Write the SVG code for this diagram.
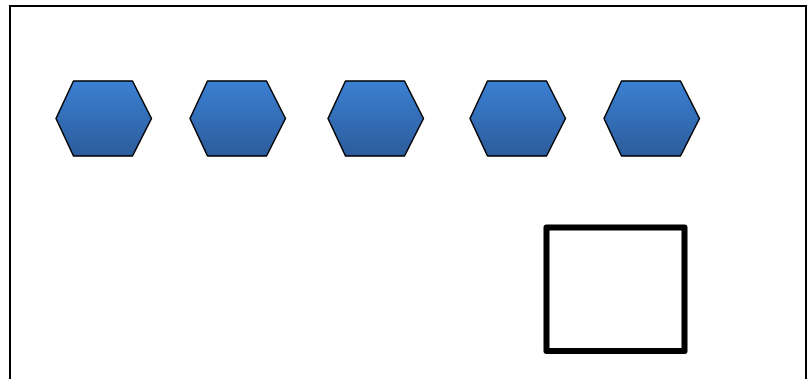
<svg xmlns="http://www.w3.org/2000/svg" width="807" height="379" viewBox="0 0 807 379">
<defs>
<linearGradient id="hexFill" x1="0" y1="0" x2="0" y2="1">
<stop offset="0" stop-color="#3b80d2"/>
<stop offset="1" stop-color="#2c5c9c"/>
</linearGradient>
<style>
.hex{fill:url(#hexFill);stroke:#000;stroke-width:1.5;stroke-linejoin:round}
</style>
</defs>
<rect x="0" y="0" width="807" height="379" fill="#fff"/>
<rect id="frame" x="10" y="6" width="796" height="390" fill="#fff" stroke="#000" stroke-width="2"/>
<g id="hex1"><polygon class="hex" points="56,118.5 73.5,81 132.5,81 151.5,118.5 132.5,156 73.5,156"/></g>
<g id="hex2"><polygon class="hex" points="190,118.5 207.5,81 266.5,81 285.5,118.5 266.5,156 207.5,156"/></g>
<g id="hex3"><polygon class="hex" points="328,118.5 345.5,81 404.5,81 423.5,118.5 404.5,156 345.5,156"/></g>
<g id="hex4"><polygon class="hex" points="470,118.5 487.5,81 546.5,81 565.5,118.5 546.5,156 487.5,156"/></g>
<g id="hex5"><polygon class="hex" points="604,118.5 621.5,81 680.5,81 699.5,118.5 680.5,156 621.5,156"/></g>
<g id="box"><rect x="546.5" y="227.5" width="138" height="123.5" fill="#fff" stroke="#000" stroke-width="6" stroke-linejoin="round"/></g>
<g id="connectors"></g>
</svg>
